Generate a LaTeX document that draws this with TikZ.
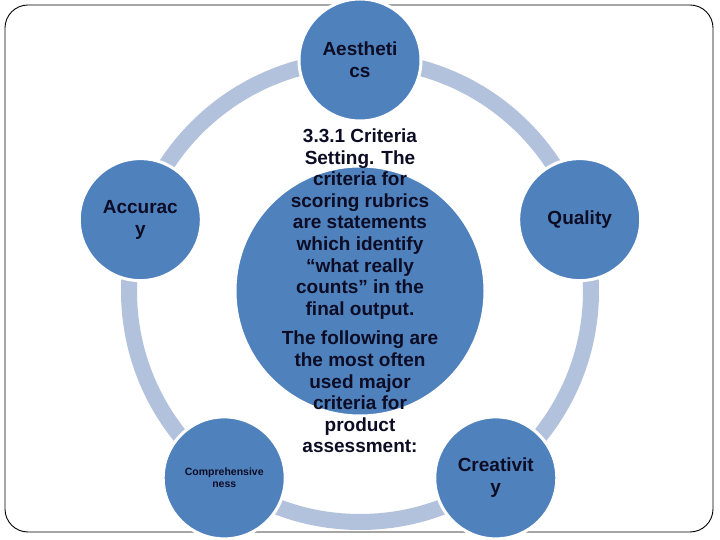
\documentclass[tikz,border=0pt]{standalone}
\usepackage{fontspec}
\setmainfont{Liberation Sans}
\definecolor{nodeblue}{RGB}{79,129,189}
\definecolor{ringblue}{RGB}{179,194,220}
\definecolor{inkdark}{RGB}{12,12,36}
\tikzset{
  petal/.style={circle, draw=white, line width=3bp, fill=nodeblue,
                minimum size=122bp, inner sep=0pt, align=center,
                text=inkdark, font=\fontsize{19bp}{22bp}\selectfont\bfseries},
  hub/.style={petal, minimum size=250bp},
  hubtext/.style={align=center, text=inkdark,
                  font=\fontsize{19bp}{21.6bp}\selectfont\bfseries},
  ring/.style={draw=ringblue, line width=16bp},
  frame/.style={draw=black, line width=0.9bp, rounded corners=23bp},
}

\begin{document}
\begin{tikzpicture}[x=1bp, y=1bp]
  \useasboundingbox (-360,-249) rectangle (360,291);
  \draw[frame] (-355,-241) rectangle (353,286);
  \draw[ring] (0,0) circle[radius=231];

  \node[hub] (hub) at (0,0) {};
  \node[petal] (aes) at (90:231) {Aestheti\\cs};
  \node[petal] (qual) at (18:231) {Quality};
  \node[petal] (crea) at (-54:231) {Creativit\\y};
  \node[petal, font=\fontsize{10.5bp}{12bp}\selectfont\bfseries] (comp) at (-126:231) {Comprehensive\\ness};
  \node[petal] (acc) at (162:231) {Accurac\\y};

  \node[hubtext] (crit) at (hub.center) {3.3.1 Criteria\\Setting. The\\criteria for\\scoring rubrics\\are statements\\which identify\\“what really\\counts” in the\\final output.\\[8bp]
    The following are\\the most often\\used major\\criteria for\\product\\assessment:};
\end{tikzpicture}
\end{document}
